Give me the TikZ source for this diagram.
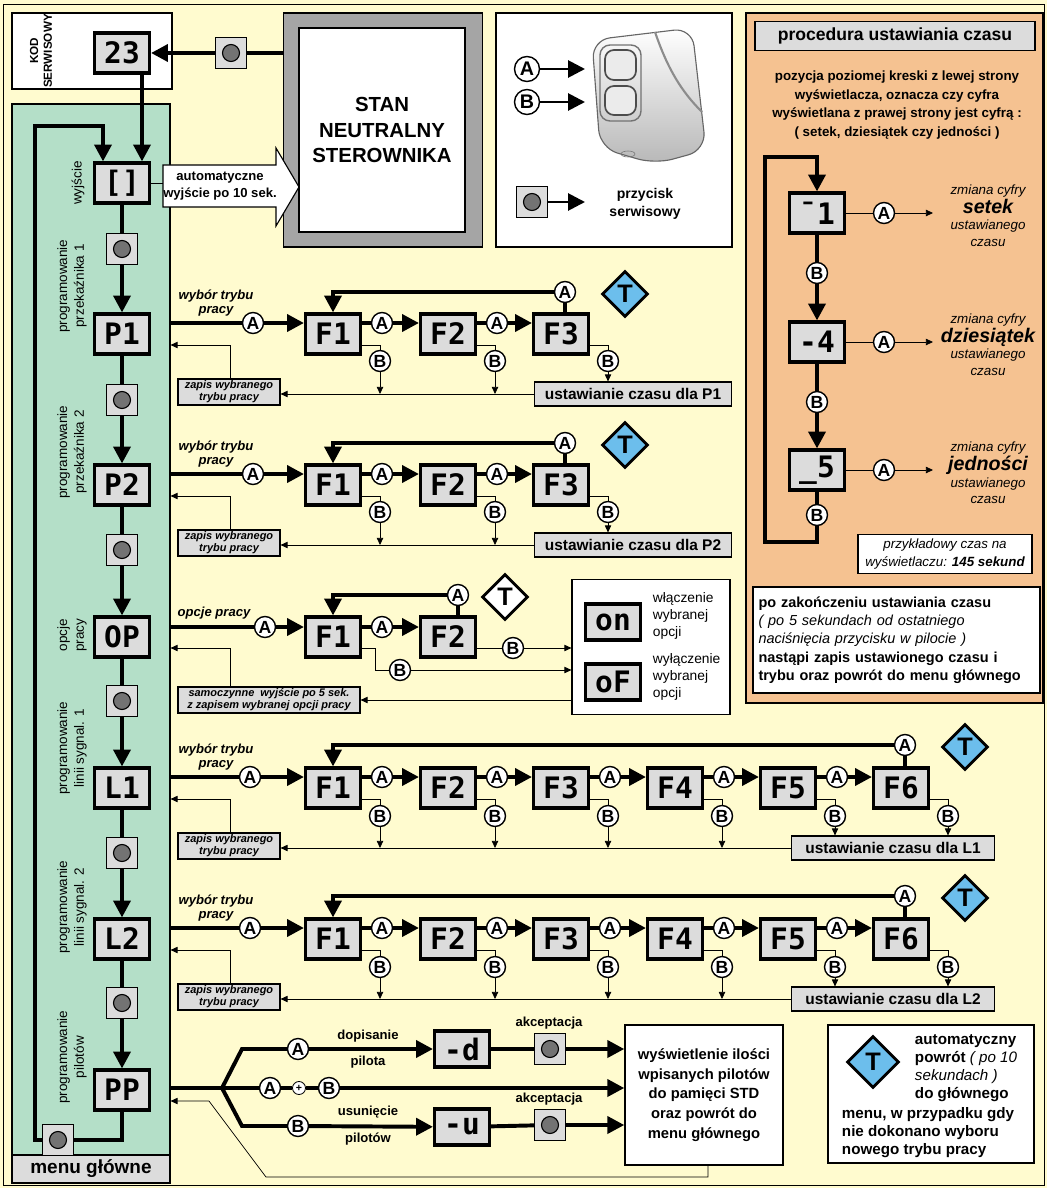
\documentclass[tikz,border=0pt]{standalone}
\usepackage{fontspec}
\setmainfont{Liberation Sans}
\newfontfamily\segfont{DejaVu Sans Mono}
\usetikzlibrary{positioning, arrows.meta, shapes.geometric, calc}

\definecolor{bgyellow}{RGB}{255,251,207}
\definecolor{menugreen}{RGB}{180,223,200}
\definecolor{panelorange}{RGB}{245,194,145}
\definecolor{dispgray}{RGB}{220,220,220}
\definecolor{tblue}{RGB}{108,190,236}
\definecolor{framegray}{RGB}{165,165,165}

\newlength\pxu
\setlength\pxu{0.025cm}
\newcommand\fs[2]{\fontsize{#1}{#2}\selectfont}

\tikzset{
  disp/.style={draw, line width=2.2pt, fill=dispgray, minimum width=55\pxu,
    minimum height=40\pxu, inner sep=0pt, font=\segfont\bfseries\fs{21}{21}},
  ab/.style={circle, draw, line width=1pt, fill=white, minimum size=21\pxu,
    inner sep=0pt, font=\bfseries\fs{12.5}{12.5}},
  pbtn/.style={draw, line width=0.8pt, fill=dispgray, minimum size=31\pxu, inner sep=0pt,
    path picture={
      \fill[black!55, draw=black, line width=0.8pt] (path picture bounding box.center) circle (8.5\pxu);
      \foreach \sx/\sy in {1/1,1/-1,-1/1,-1/-1}
        \fill ([shift={(\sx*10.5\pxu,\sy*10.5\pxu)}]path picture bounding box.center) circle (2\pxu);
    }},
  tdiam/.style={diamond, draw, line width=2pt, fill=tblue, minimum size=46\pxu,
    inner sep=0pt, font=\bfseries\fs{18}{18}},
  zapis/.style={draw, line width=0.8pt, fill=dispgray, inner sep=1pt, align=center,
    minimum height=26\pxu, font=\bfseries\itshape\fs{7.8}{8.6}},
  timebox/.style={draw, line width=0.8pt, fill=dispgray, minimum height=24\pxu,
    font=\bfseries\fs{11}{11}},
  thk/.style={line width=2.8pt},
  thkarr/.style={line width=2.8pt, -{Triangle[length=12pt,width=12pt]}},
  fine/.style={line width=0.5pt},
  finearr/.style={line width=0.5pt, -{Triangle[length=5pt,width=4.5pt]}},
  sidelbl/.style={rotate=90, align=center, font=\fs{9.6}{12}},
  lbl/.style={align=center, font=\bfseries\itshape\fs{9.3}{10}},
  plain/.style={align=center, font=\bfseries\fs{9.3}{12.5}},
}

\begin{document}
\begin{tikzpicture}[x=0.025cm, y=-0.025cm]
  \useasboundingbox (0,0) rectangle (1047,1188);
  \fill[bgyellow] (0,0) rectangle (1047,1188);
  \draw[line width=0.6pt] (3,4) rectangle (1044,1185);

  % kod serwisowy
  \node[draw, line width=0.8pt, fill=white, minimum width=160\pxu, minimum height=76\pxu] (kod) at (92,51) {};
  \node[sidelbl, font=\bfseries\fs{8.3}{9.8}] (kodtxt) at (41,51) {KOD\\SERWISOWY};
  \node[disp] (d23) at (122,53) {23};

  % stan neutralny
  \node[draw, line width=0.8pt, fill=framegray, minimum width=199\pxu, minimum height=234\pxu] (stanbox) at (383,130) {};
  \node[draw, line width=1.5pt, fill=white, minimum width=166\pxu, minimum height=204\pxu,
    align=center, font=\bfseries\fs{14.5}{17.8}] (stan) at (382,130) {STAN\\NEUTRALNY\\STEROWNIKA};
  \node[pbtn] (k0) at (231,53) {};
  \draw[thk] (stanbox.west |- k0) -- (k0);
  \draw[thkarr] (k0) -- (d23);

  % menu glowne
  \node[draw, line width=0.8pt, fill=menugreen, minimum width=158\pxu, minimum height=1079\pxu] (menu) at (91,643.5) {};
  \node[draw, line width=0.8pt, fill=dispgray, minimum width=158\pxu, minimum height=28\pxu,
    font=\bfseries\fs{13.5}{13.5}] (mtitle) at (91,1169) {menu główne};

  \foreach \n/\tx/\yy in {wy/{[]}/183, p1/P1/334, p2/P2/485, op/OP/637, l1/L1/788, l2/L2/939, pp/PP/1090}
    \node[disp] (\n) at (122,\yy) {\tx};
  \foreach \n/\yy in {k1/249, k2/400, k3/550, k4/701, k5/853, k6/1003}
    \node[pbtn] (\n) at (122,\yy) {};
  \foreach \ta/\tb/\tc in {wy/k1/p1, p1/k2/p2, p2/k3/op, op/k4/l1, l1/k5/l2, l2/k6/pp}{
    \draw[thk] (\ta) -- (\tb);
    \draw[thkarr] (\tb) -- (\tc);
  }
  \draw[thkarr] ([xshift=20\pxu]d23.south) -- ([xshift=20\pxu]wy.north);

  \node[pbtn] (kb) at (58,1140) {};
  \coordinate (loopa) at (35,1140);
  \coordinate (loopb) at (35,126);
  \draw[thk] (pp.south) |- (kb);
  \draw[thkarr] (kb.west) -- (loopa) -- (loopb) -| ([xshift=-19\pxu]wy.north);

  \node[sidelbl] (lwy) at (78,183) {wyjście};
  \node[sidelbl] (lp1) at (72,286) {programowanie\\przekaźnika 1};
  \node[sidelbl] (lp2) at (72,452) {programowanie\\przekaźnika 2};
  \node[sidelbl] (lop) at (72,635) {opcje\\pracy};
  \node[sidelbl] (ll1) at (72,748) {programowanie\\linii sygnal. 1};
  \node[sidelbl] (ll2) at (72,907) {programowanie\\linii sygnal. 2};
  \node[sidelbl] (lpp) at (72,1057) {programowanie\\pilotów};

  % automatyczne wyjscie
  \draw[line width=0.8pt, fill=white] (163,165) -- (276,165) -- (276,148) -- (299,187)
    -- (276,226) -- (276,207) -- (163,207) -- cycle;
  \node[plain] (autotxt) at (220,186) {automatyczne\\wyjście po 10 sek.};
  \coordinate (autoin) at (163,183);
  \draw[fine] (wy.east) -- (autoin);

  % pilot
  \node[draw, line width=0.8pt, fill=white, minimum width=236\pxu, minimum height=234\pxu] (remote) at (614,130) {};
  \shade[top color=white, bottom color=black!28, draw=black!60, line width=0.8pt, rounded corners=18\pxu]
    (592,40) -- (692,28) -- (706,150) -- (655,164) -- (600,148) -- cycle;
  \draw[black!55, line width=1pt, rounded corners=10\pxu] (600,45) rectangle (641,121);
  \draw[black!70, line width=1.2pt, rounded corners=9\pxu, fill=black!8] (605,50) rectangle (636,80);
  \draw[black!70, line width=1.2pt, rounded corners=9\pxu, fill=black!8] (605,86) rectangle (636,115);
  \draw[black!45, line width=1.5pt] (655,32) .. controls (668,70) and (682,92) .. (702,112);
  \draw[black!55] (628,154) ellipse (7 and 3);
  \node[ab, minimum size=25\pxu, font=\bfseries\fs{14}{14}] (ra) at (527,69) {A};
  \node[ab, minimum size=25\pxu, font=\bfseries\fs{14}{14}] (rb) at (527,102) {B};
  \node[pbtn] (rk) at (532,202) {};
  \coordinate (rat) at (585,69);
  \coordinate (rbt) at (585,102);
  \coordinate (rkt) at (585,202);
  \draw[thkarr, line width=2pt] (ra) -- (rat);
  \draw[thkarr, line width=2pt] (rb) -- (rbt);
  \draw[thkarr, line width=2pt] (rk) -- (rkt);
  \node[align=center, font=\bfseries\fs{10}{13}] (rktxt) at (645,204) {przycisk\\serwisowy};

  % procedura ustawiania czasu
  \node[draw, line width=0.8pt, fill=panelorange, minimum width=297\pxu, minimum height=690\pxu] (panel) at (894.5,358) {};
  \node[draw, line width=0.8pt, fill=dispgray, minimum width=280\pxu, minimum height=29\pxu,
    font=\bfseries\fs{12.5}{12.5}] (ptitle) at (895,36) {procedura ustawiania czasu};
  \node[plain, font=\bfseries\fs{9.5}{13.3}] (pinfo) at (897,105)
    {pozycja poziomej kreski z lewej strony\\wyświetlacza, oznacza czy cyfra\\wyświetlana z prawej strony jest cyfrą :\\( setek, dziesiątek czy jedności )};
  \node[disp] (s1) at (817,213) {¯1};
  \node[disp] (s2) at (817,342) {-4};
  \node[disp] (s3) at (817,470) {\_5};
  \node[ab] (sb1) at (817,273) {B};
  \node[ab] (sb2) at (817,402) {B};
  \node[ab] (sb3) at (817,515) {B};
  \draw[thk] (s1) -- (sb1);
  \draw[thkarr] (sb1) -- (s2);
  \draw[thk] (s2) -- (sb2);
  \draw[thkarr] (sb2) -- (s3);
  \draw[thk] (s3) -- (sb3);
  \coordinate (sla) at (765,542);
  \coordinate (slb) at (765,157);
  \draw[thkarr] (sb3) |- (sla) -- (slb) -| (s1);
  \foreach \i/\yy/\w in {1/213/setek, 2/342/dziesiątek, 3/470/jedności}{
    \node[ab] (sa\i) at (884,\yy) {A};
    \coordinate (st\i) at (933,\yy);
    \draw[fine] (s\i) -- (sa\i);
    \draw[finearr] (sa\i) -- (st\i);
    \node[align=center, font=\itshape\fs{9.5}{12}] (sz\i) at (988,\yy+3)
      {zmiana cyfry\\\textbf{\fs{14}{14}\w}\\ustawianego\\czasu};
  }
  \node[draw, line width=0.8pt, fill=white, minimum width=174\pxu, minimum height=38\pxu,
    align=center, font=\itshape\fs{9.5}{12.5}] (pex) at (945,554) {przykładowy czas na\\wyświetlaczu: \textbf{145 sekund}};
  \node[draw, line width=1pt, fill=white, minimum width=287\pxu, minimum height=106\pxu,
    text width=276\pxu, align=left, font=\bfseries\fs{10.3}{13}] (pend) at (896.5,640)
    {po zakończeniu ustawiania czasu\\
     \textit{\mdseries ( po 5 sekundach od ostatniego}\\
     \textit{\mdseries naciśnięcia przycisku w pilocie )}\\
     nastąpi zapis ustawionego czasu i\\
     trybu oraz powrót do menu głównego};

  % przekazniki P1, P2
  \foreach \rw/\yy/\lab in {p1/334/P1, p2/485/P2}{
    \begin{scope}[shift={(0,\yy)}]
      \node[lbl] (\rw txt) at (216,-31) {wybór trybu\\pracy};
      \node[ab] (\rw in) at (253,-11) {A};
      \foreach \i/\xx in {1/333, 2/448, 3/561}{
        \node[disp] (\rw f\i) at (\xx,0) {F\i};
        \node[ab] (\rw b\i) at (\xx+47,27) {B};
        \draw[fine] (\rw f\i.east |- 0,11) -| (\rw b\i);
      }
      \foreach \i/\xx in {1/333, 2/448}
        \node[ab] (\rw a\i) at (\xx+49,-11) {A};
      \node[ab] (\rw top) at (565,-42) {A};
      \node[tdiam] (\rw t) at (625,-40) {T};
      \node[timebox, minimum width=197\pxu] (\rw set) at (633,60) {ustawianie czasu dla \lab};
      \node[zapis, minimum width=102\pxu] (\rw zap) at (229,58) {zapis wybranego\\trybu pracy};
      \draw[thk] (menu.east |- \rw in) -- (\rw in);
      \draw[thkarr] (\rw in) -- (\rw f1.west |- \rw in);
      \foreach \i [evaluate=\i as \j using int(\i+1)] in {1,2}{
        \draw[thk] (\rw f\i.east |- \rw a\i) -- (\rw a\i);
        \draw[thkarr] (\rw a\i) -- (\rw f\j.west |- \rw a\i);
      }
      \draw[thk] (\rw f3.north -| \rw top) -- (\rw top);
      \draw[thkarr] (\rw top) -| (\rw f1.north);
      \draw[finearr] (\rw b1) -- (\rw b1 |- \rw set.west);
      \draw[finearr] (\rw b2) -- (\rw b2 |- \rw set.west);
      \draw[finearr] (\rw b3) -- (\rw b3 |- \rw set.north);
      \draw[finearr] (\rw set.west) -- (\rw set.west -| \rw zap.east);
      \draw[finearr] ([xshift=1\pxu]\rw zap.north) |- (menu.east |- 0,11);
    \end{scope}
  }

  % opcje pracy
  \begin{scope}[shift={(0,637)}]
    \node[lbl] (otxt) at (214,-24) {opcje pracy};
    \node[ab] (oin) at (265,-10) {A};
    \node[disp] (of1) at (333,0) {F1};
    \node[disp] (of2) at (448,0) {F2};
    \node[ab] (oa1) at (382,-10) {A};
    \node[ab] (otop) at (458,-42) {A};
    \node[tdiam, fill=white] (ot) at (505,-40) {T};
    \node[draw, line width=0.8pt, fill=white, minimum width=158\pxu, minimum height=135\pxu] (oopt) at (651,10) {};
    \node[disp, minimum height=36\pxu] (oon) at (613,-15) {on};
    \node[disp, minimum height=36\pxu] (ooff) at (613,45) {oF};
    \node[align=left, anchor=west, font=\fs{9.8}{12}] (oontx) at (648,-21) {włączenie\\wybranej\\opcji};
    \node[align=left, anchor=west, font=\fs{9.8}{12}] (oofftx) at (648,40) {wyłączenie\\wybranej\\opcji};
    \node[ab] (ob2) at (513,11) {B};
    \node[ab] (ob1) at (400,33) {B};
    \coordinate (obend) at (375,33);
    \node[zapis, minimum width=182\pxu] (ozap) at (269,63) {samoczynne\ \ wyjście po 5 sek.\\z zapisem wybranej opcji pracy};
    \draw[thk] (menu.east |- oin) -- (oin);
    \draw[thkarr] (oin) -- (of1.west |- oin);
    \draw[thk] (of1.east |- oa1) -- (oa1);
    \draw[thkarr] (oa1) -- (of2.west |- oa1);
    \draw[thk] (of2.north -| otop) -- (otop);
    \draw[thkarr] (otop) -| (of1.north);
    \draw[fine] (of2.east |- ob2) -- (ob2);
    \draw[finearr] (ob2) -- (oopt.west |- ob2);
    \draw[fine] (of1.east |- 0,11) -| (obend) -- (ob1);
    \draw[finearr] (ob1) -- (oopt.west |- ob1);
    \draw[finearr] (oopt.west |- ozap) -- (ozap);
    \draw[finearr] ([xshift=-39\pxu]ozap.north) |- (menu.east |- 0,11);
  \end{scope}

  % linie sygnalowe L1, L2
  \foreach \rw/\yy/\lab in {l1/788/L1, l2/939/L2}{
    \begin{scope}[shift={(0,\yy)}]
      \node[lbl] (\rw txt) at (216,-31) {wybór trybu\\pracy};
      \node[ab] (\rw in) at (250,-11) {A};
      \foreach \i/\xx in {1/333, 2/448, 3/561, 4/675, 5/788, 6/901}{
        \node[disp] (\rw f\i) at (\xx,0) {F\i};
        \node[ab] (\rw b\i) at (\xx+47,28) {B};
        \draw[fine] (\rw f\i.east |- 0,11) -| (\rw b\i);
      }
      \foreach \i/\xx in {1/333, 2/448, 3/561, 4/675, 5/788}
        \node[ab] (\rw a\i) at (\xx+49,-11) {A};
      \node[ab] (\rw top) at (905,-43) {A};
      \node[tdiam] (\rw t) at (965,-41) {T};
      \node[timebox, minimum width=203\pxu] (\rw set) at (893,60) {ustawianie czasu dla \lab};
      \node[zapis, minimum width=102\pxu] (\rw zap) at (229,58) {zapis wybranego\\trybu pracy};
      \draw[thk] (menu.east |- \rw in) -- (\rw in);
      \draw[thkarr] (\rw in) -- (\rw f1.west |- \rw in);
      \foreach \i [evaluate=\i as \j using int(\i+1)] in {1,...,5}{
        \draw[thk] (\rw f\i.east |- \rw a\i) -- (\rw a\i);
        \draw[thkarr] (\rw a\i) -- (\rw f\j.west |- \rw a\i);
      }
      \draw[thk] (\rw f6.north -| \rw top) -- (\rw top);
      \draw[thkarr] (\rw top) -| (\rw f1.north);
      \foreach \i in {1,...,4}
        \draw[finearr] (\rw b\i) -- (\rw b\i |- \rw set.west);
      \draw[finearr] (\rw b5) -- (\rw b5 |- \rw set.north);
      \draw[finearr] (\rw b6) -- (\rw b6 |- \rw set.north);
      \draw[finearr] (\rw set.west) -- (\rw set.west -| \rw zap.east);
      \draw[finearr] ([xshift=1\pxu]\rw zap.north) |- (menu.east |- 0,11);
    \end{scope}
  }

  % programowanie pilotow
  \coordinate (pj) at (222,1088);
  \coordinate (pju) at (242,1049);
  \coordinate (pjd) at (242,1126);
  \node[ab] (pa) at (298,1049) {A};
  \node[ab] (pab1) at (270,1088) {A};
  \node[circle, draw, fill=white, line width=0.6pt, minimum size=13\pxu, inner sep=0pt,
    font=\bfseries\fs{7.5}{7.5}] (pplus) at (299,1088) {+};
  \node[ab] (pab2) at (329,1088) {B};
  \node[ab] (pb) at (298,1126) {B};
  \node[disp, minimum height=36\pxu] (pd) at (462,1049) {-d};
  \node[disp, minimum height=36\pxu] (pu) at (462,1127) {-u};
  \node[pbtn] (pk1) at (550,1049) {};
  \node[pbtn] (pk2) at (550,1125) {};
  \node[plain] (pacc1) at (549,1023) {akceptacja};
  \node[plain] (pacc2) at (549,1099) {akceptacja};
  \node[plain] (pdop) at (368,1036) {dopisanie};
  \node[plain] (ppil) at (368,1062) {pilota};
  \node[plain] (pusu) at (368,1112) {usunięcie};
  \node[plain] (ppilt) at (368,1139) {pilotów};
  \node[draw, line width=1pt, fill=white, minimum width=158\pxu, minimum height=140\pxu,
    align=center, font=\bfseries\fs{10.5}{14}] (pbig) at (704,1095)
    {wyświetlenie ilości\\wpisanych pilotów\\do pamięci STD\\oraz powrót do\\menu głównego};
  \draw[thk] (menu.east |- pj) -- (pj);
  \draw[thk] (pj) -- (pju) -- (pa);
  \draw[thkarr] (pa) -- (pd);
  \draw[thk] (pd) -- (pk1);
  \draw[thkarr] (pk1) -- (pbig.west |- pk1);
  \draw[thk] (pj) -- (pab1) -- (pplus) -- (pab2);
  \draw[thkarr] (pab2) -- (pbig.west |- pab2);
  \draw[thk] (pj) -- (pjd) -- (pb);
  \draw[thkarr] (pb) -- (pu);
  \draw[thk] (pu) -- (pk2);
  \draw[thkarr] (pk2) -- (pbig.west |- pk2);
  \coordinate (pra) at (266,1177);
  \coordinate (prb) at (209,1101);
  \draw[finearr] ([xshift=4\pxu]pbig.south) |- (pra) -- (prb) -- (menu.east |- prb);

  % legenda T
  \node[draw, line width=2pt, fill=white, minimum width=206\pxu, minimum height=138\pxu] (legend) at (931,1094) {};
  \node[tdiam, minimum size=52\pxu] (lt) at (873,1062) {T};
  \node[align=left, anchor=north west, font=\bfseries\fs{10.8}{12.8}] (ltxa) at (910,1030)
    {automatyczny\\powrót \textit{\mdseries ( po 10}\\\textit{\mdseries sekundach )}\\do głównego};
  \node[align=left, anchor=north west, font=\bfseries\fs{10.8}{12.8}] (ltxb) at (837,1103)
    {menu, w przypadku gdy\\nie dokonano wyboru\\nowego trybu pracy};
\end{tikzpicture}
\end{document}
